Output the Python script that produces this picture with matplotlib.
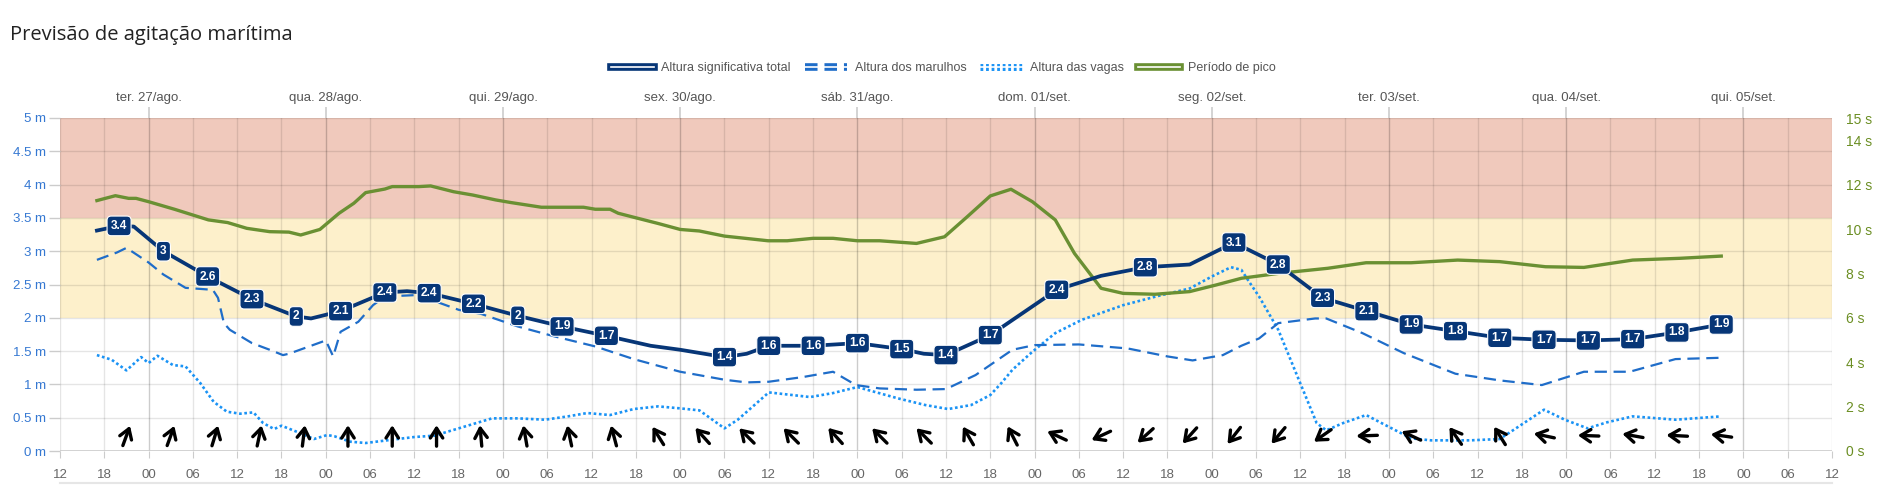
import numpy as np
import matplotlib
matplotlib.use("Agg")
import matplotlib.pyplot as plt
from matplotlib.lines import Line2D
from matplotlib.transforms import ScaledTranslation

# time axis: hours after Mon 26/ago 12:00
hour_lbls = ['12', '18', '00', '06']
day_lbls = ['ter. 27/ago.', 'qua. 28/ago.', 'qui. 29/ago.', 'sex. 30/ago.',
            'sáb. 31/ago.', 'dom. 01/set.', 'seg. 02/set.', 'ter. 03/set.',
            'qua. 04/set.', 'qui. 05/set.']

# significant wave height (m)
total_h = [5, 8, 10, 14, 20, 26, 32, 34, 38, 44, 47, 50, 56, 62, 68, 74, 80, 84,
           90, 93, 96, 102, 108, 114, 117, 120, 126, 135, 141, 147, 153, 159,
           165, 171, 177, 183, 189, 195, 201, 207, 213, 219, 225]
total_m = [3.31, 3.38, 3.37, 3.0, 2.62, 2.28, 2.02, 1.99, 2.10, 2.38, 2.40, 2.37,
           2.21, 2.03, 1.87, 1.73, 1.58, 1.52, 1.41, 1.46, 1.58, 1.58, 1.62, 1.53,
           1.46, 1.44, 1.74, 2.42, 2.63, 2.76, 2.80, 3.13, 2.80, 2.30, 2.10, 1.90,
           1.80, 1.70, 1.67, 1.66, 1.68, 1.78, 1.90]

# value labels on the total height line
lab_h = [8, 14, 20, 26, 32, 38, 44, 50, 56, 62, 68, 74,
         90, 96, 102, 108, 114, 120, 126, 135, 147, 159,
         165, 171, 177, 183, 189, 195, 201, 207, 213, 219, 225]
lab_txt = ['3.4', '3', '2.6', '2.3', '2', '2.1', '2.4', '2.4', '2.2', '2', '1.9', '1.7',
           '1.4', '1.6', '1.6', '1.6', '1.5', '1.4', '1.7', '2.4', '2.8', '3.1',
           '2.8', '2.3', '2.1', '1.9', '1.8', '1.7', '1.7', '1.7', '1.7', '1.8', '1.9']

# swell height (m)
swell_h = [5, 7.7, 9, 12, 14, 17, 20.7, 21.4, 22.2, 23, 26, 28.4, 30.2, 31, 33, 36,
           37, 38, 40.4, 42.4, 44, 48, 51, 54, 57, 62, 67, 72.5, 77.7, 81, 84, 90,
           93, 96, 100.6, 104.7, 107.8, 111, 116, 120, 124, 129, 132, 138, 144.6,
           150, 153.4, 157.5, 160, 162.4, 165, 170, 171.5, 176.4, 182, 189, 195,
           200.7, 206.4, 212.6, 218.8, 225]
swell_m = [2.87, 2.98, 3.05, 2.83, 2.65, 2.45, 2.42, 2.30, 1.92, 1.82, 1.62, 1.52,
           1.44, 1.46, 1.54, 1.66, 1.42, 1.79, 1.94, 2.19, 2.32, 2.34, 2.24, 2.12,
           2.06, 1.87, 1.72, 1.57, 1.38, 1.28, 1.19, 1.07, 1.03, 1.04, 1.11, 1.19,
           0.99, 0.94, 0.92, 0.93, 1.14, 1.52, 1.59, 1.60, 1.54, 1.42, 1.36, 1.44,
           1.58, 1.69, 1.92, 1.99, 1.99, 1.77, 1.47, 1.16, 1.06, 0.99, 1.19, 1.19,
           1.38, 1.40]

# wind sea height (m)
wind_h = [5, 7, 9, 11, 12, 13.2, 15.3, 17, 19, 20.8, 22.6, 24.4, 26.2, 27.5, 29,
          30, 32.5, 34.4, 36.2, 37.2, 39.3, 41.4, 45, 48, 50.7, 54.9, 58.5, 62,
          65.7, 68.8, 71.4, 74.5, 77.7, 81, 84, 86.6, 90, 91.8, 96, 101.6, 104.7,
          108, 113.5, 117.2, 120.3, 123.4, 126, 127.5, 129, 131.7, 134.8, 138.4,
          144, 148.8, 153, 156, 158.6, 160, 161, 162.4, 165, 167.6, 170.2, 171.5,
          173.8, 176.9, 179.5, 183, 185.7, 191, 195, 197.6, 201, 203.8, 206.9,
          209.5, 213, 218.8, 225]
wind_m = [1.44, 1.37, 1.21, 1.41, 1.32, 1.43, 1.29, 1.27, 1.02, 0.74, 0.59, 0.56,
          0.58, 0.42, 0.33, 0.38, 0.27, 0.18, 0.24, 0.22, 0.14, 0.12, 0.17, 0.21,
          0.23, 0.37, 0.49, 0.49, 0.47, 0.52, 0.57, 0.54, 0.63, 0.67, 0.64, 0.61,
          0.34, 0.47, 0.88, 0.81, 0.87, 0.96, 0.79, 0.69, 0.63, 0.69, 0.84, 1.02,
          1.22, 1.49, 1.77, 1.97, 2.19, 2.33, 2.44, 2.62, 2.76, 2.72, 2.55, 2.32,
          1.82, 1.12, 0.42, 0.31, 0.42, 0.54, 0.39, 0.19, 0.16, 0.16, 0.18, 0.37,
          0.62, 0.47, 0.34, 0.43, 0.52, 0.47, 0.52]

# peak period (s)
per_h = [5, 7.5, 9.3, 10.3, 12, 15.5, 20.1, 22.7, 25.3, 28.4, 31, 32.6, 35.2, 37.8,
         39.8, 41.4, 44, 45, 48.6, 50.2, 53.3, 55.9, 59, 61.1, 65.2, 70.9, 72.5,
         74.5, 75.6, 77.7, 81, 84, 86.6, 90, 95.9, 98.5, 102, 104.7, 108, 111, 116,
         119.8, 122.9, 126, 128.8, 131.7, 134.8, 137.4, 141, 144, 148.3, 153,
         156.6, 160, 165, 171.7, 176.9, 183, 189.3, 195, 201.2, 206.4, 213, 219.4,
         225]
per_s = [11.28, 11.5, 11.38, 11.38, 11.23, 10.89, 10.41, 10.29, 10.03, 9.88, 9.86,
         9.73, 9.98, 10.71, 11.16, 11.64, 11.8, 11.91, 11.91, 11.94, 11.68, 11.53,
         11.31, 11.19, 10.98, 10.98, 10.89, 10.89, 10.71, 10.53, 10.25, 9.98, 9.91,
         9.68, 9.47, 9.47, 9.58, 9.58, 9.47, 9.47, 9.35, 9.65, 10.56, 11.49, 11.79,
         11.23, 10.41, 8.9, 7.33, 7.1, 7.06, 7.18, 7.48, 7.78, 8.0, 8.23, 8.48,
         8.48, 8.6, 8.53, 8.3, 8.27, 8.6, 8.68, 8.78]

# wave direction arrows (degrees the arrow points to, 0 = up, clockwise)
arr_h = list(range(9, 226, 6))
arr_dir = [20, 20, 17, 12, 7, 0, 0, 0, 355, 350, 348, 345, 328, 318, 315, 315,
           318, 315, 315, 330, 333, 295, 245, 228, 222, 218, 220, 235, 268, 295,
           325, 328, 282, 272, 280, 273, 278]

navy = '#073677'
swell_c = '#1f6dc9'
wind_c = '#1a93f5'
green = '#6a9033'

plt.rcParams['font.family'] = ['Liberation Sans', 'DejaVu Sans']

fig = plt.figure(figsize=(18.87, 5.03), dpi=100)
ax = fig.add_axes([60/1887, 52/503, 1772/1887, 333/503])
ax2 = ax.twinx()
ax.set_zorder(ax2.get_zorder() + 1)
ax.patch.set_visible(False)

ax.set_xlim(0, 240)
ax.set_ylim(0, 5)
ax2.set_ylim(0, 15)

# bands
ax.axhspan(3.5, 5, color='#f0c9bc', lw=0, zorder=0)
ax.axhspan(2, 3.5, color='#fdf0cb', lw=0, zorder=0)

# grid
for v in np.arange(0, 5.01, 0.5):
    ax.axhline(v, color='black', alpha=0.1, lw=1, zorder=1)
for h in range(0, 241, 6):
    a = 0.2 if h % 24 == 12 else 0.1
    ax.axvline(h, color='black', alpha=a, lw=1, zorder=1)

ax.plot(wind_h, wind_m, color=wind_c, lw=1.9, dashes=(1, 1),
        dash_capstyle='butt', zorder=3)
ax.plot(swell_h, swell_m, color=swell_c, lw=1.6, dashes=(5.5, 3), zorder=3)
ax.plot(per_h, per_s, color=green, lw=2.4, transform=ax2.transData, zorder=3)
ax.plot(total_h, total_m, color=navy, lw=2.7, zorder=4)

lab_y = np.interp(lab_h, total_h, total_m)
for h, y, t in zip(lab_h, lab_y, lab_txt):
    ax.text(h, y, t, ha='center', va='center', color='white', fontsize=8.6,
            fontweight='bold', zorder=6,
            bbox=dict(boxstyle='round,pad=0.32,rounding_size=0.35', fc=navy,
                      ec='white', lw=0.8))

# direction arrows
L = 0.105  # half length in inches
for h, d in zip(arr_h, arr_dir):
    dx = np.sin(np.radians(d)) * L
    dy = np.cos(np.radians(d)) * L
    tip = ax.transData + ScaledTranslation(dx, dy, fig.dpi_scale_trans)
    tail = ax.transData + ScaledTranslation(-dx, -dy, fig.dpi_scale_trans)
    ax.annotate('', xy=(h, 0.23), xycoords=tip, xytext=(h, 0.23), textcoords=tail,
                arrowprops=dict(arrowstyle='->,head_length=0.5,head_width=0.32',
                                color='black', lw=2.4, shrinkA=0, shrinkB=0,
                                mutation_scale=14), zorder=5)

# axes styling
for s in ax.spines.values():
    s.set_visible(False)
for s in ax2.spines.values():
    s.set_visible(False)
ax.axhline(0, color='#cccccc', lw=1.2, zorder=2)

yt = np.arange(0, 5.01, 0.5)
ax.set_yticks(yt)
ax.set_yticklabels([f'{v:g} m' for v in yt])
ax.tick_params(axis='y', colors='#cccccc', labelcolor='#3578d2', labelsize=9.5,
               length=8, width=1, pad=2)

xt = list(range(0, 241, 6))
ax.set_xticks(xt)
ax.set_xticklabels([hour_lbls[i % 4] for i in range(len(xt))])
ax.tick_params(axis='x', colors='#cccccc', labelcolor='#666666', labelsize=9.5,
               length=5, pad=8)

st = [0, 2, 4, 6, 8, 10, 12, 14, 15]
ax2.set_yticks(st)
ax2.set_yticklabels([f'{v} s' for v in st])
ax2.tick_params(axis='y', labelcolor='#6b8e23', labelsize=10, length=0, pad=10)

top = ax.secondary_xaxis('top')
top.set_xticks(list(range(12, 229, 24)))
top.set_xticklabels(day_lbls)
top.tick_params(colors='#cccccc', labelcolor='#555555', labelsize=9.5,
                length=8, width=1.2, pad=2)
for s in top.spines.values():
    s.set_visible(False)

# title and legend
fig.text(10/1887, 1 - 35/503, 'Previsão de agitação marítima', fontsize=14.5,
         family=['Open Sans', 'DejaVu Sans'], color='#222222', va='center')

handles = [
    (Line2D([], [], color=navy, lw=5.5), Line2D([], [], color='white', lw=1.2)),
    (Line2D([], [], color=swell_c, lw=5.5, dashes=(1.64, 0.91)),
     Line2D([], [], color='white', lw=1.2)),
    (Line2D([], [], color=wind_c, lw=5, dashes=(0.4, 0.4)),
     Line2D([], [], color='white', lw=1.2)),
    (Line2D([], [], color=green, lw=5.5), Line2D([], [], color='white', lw=1.2)),
]
labels = ['Altura significativa total', 'Altura dos marulhos', 'Altura das vagas',
          'Período de pico']
fig.legend(handles, labels, loc='center', bbox_to_anchor=(0.5, 1 - 68/503),
           ncol=4, frameon=False, fontsize=9, labelcolor='#555555',
           handlelength=3.4, handletextpad=0.6, columnspacing=1.1)

# navigator baseline under the chart
fig.add_artist(Line2D([60/1887, 1832/1887], [20/503, 20/503], color='#e6e6e6',
                      lw=1.5))

fig.savefig('out.png', dpi=100)
